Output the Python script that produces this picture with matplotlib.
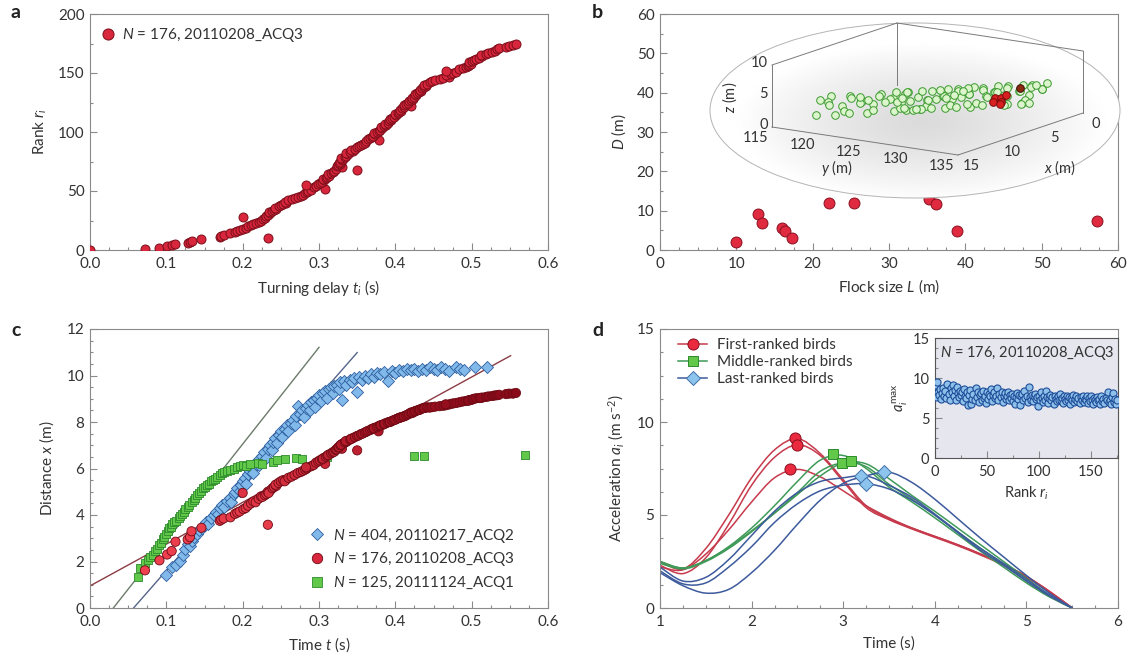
import numpy as np
import matplotlib
matplotlib.use("Agg")
import matplotlib.pyplot as plt
from matplotlib.patches import Ellipse, PathPatch
from matplotlib.path import Path
from matplotlib.lines import Line2D
from matplotlib.ticker import MultipleLocator
from matplotlib.colors import LinearSegmentedColormap

plt.rcParams['font.family'] = ['Lato', 'DejaVu Sans']
plt.rcParams['mathtext.fontset'] = 'custom'
plt.rcParams['mathtext.rm'] = 'Lato'
plt.rcParams['mathtext.it'] = 'Lato:italic'
plt.rcParams['mathtext.bf'] = 'Lato:bold'

# ---------------------------------------------------------------- data
# (a) turning delay t_i of each bird, ordered by rank r_i = 0..175
turn_delay = [
    0.000, 0.072, 0.091, 0.101, 0.107, 0.112, 0.128, 0.131, 0.133, 0.146,
    0.233, 0.170, 0.172, 0.175, 0.184, 0.190, 0.193, 0.196, 0.201, 0.204,
    0.207, 0.211, 0.214, 0.217, 0.221, 0.224, 0.226, 0.229, 0.200, 0.231,
    0.233, 0.236, 0.234, 0.239, 0.241, 0.244, 0.243, 0.247, 0.250, 0.253,
    0.257, 0.255, 0.260, 0.264, 0.268, 0.272, 0.276, 0.279, 0.282, 0.284,
    0.286, 0.290, 0.308, 0.293, 0.296, 0.283, 0.299, 0.301, 0.304, 0.306,
    0.305, 0.309, 0.311, 0.313, 0.312, 0.316, 0.318, 0.320, 0.350, 0.322,
    0.330, 0.323, 0.325, 0.327, 0.326, 0.328, 0.330, 0.332, 0.329, 0.334,
    0.336, 0.338, 0.335, 0.341, 0.344, 0.342, 0.347, 0.350, 0.352, 0.355,
    0.357, 0.360, 0.362, 0.378, 0.364, 0.367, 0.369, 0.371, 0.373, 0.372,
    0.376, 0.378, 0.380, 0.383, 0.381, 0.385, 0.388, 0.386, 0.390, 0.392,
    0.394, 0.393, 0.396, 0.398, 0.401, 0.400, 0.403, 0.405, 0.407, 0.406,
    0.409, 0.412, 0.420, 0.411, 0.414, 0.416, 0.418, 0.421, 0.423, 0.422,
    0.425, 0.427, 0.426, 0.429, 0.431, 0.433, 0.432, 0.435, 0.437, 0.440,
    0.438, 0.442, 0.445, 0.448, 0.452, 0.458, 0.463, 0.470, 0.466, 0.473,
    0.476, 0.480, 0.466, 0.484, 0.488, 0.492, 0.495, 0.497, 0.499, 0.496,
    0.501, 0.503, 0.506, 0.510, 0.514, 0.512, 0.519, 0.522, 0.527, 0.530,
    0.533, 0.536, 0.545, 0.549, 0.554, 0.558]
rank = np.arange(len(turn_delay))

# (c) distance travelled by the same birds (N = 176 flock), by rank
travel_176 = [
    0.00, 1.62, 2.05, 2.30, 2.45, 2.85, 2.95, 3.05, 3.30, 3.45,
    3.58, 3.75, 3.80, 3.85, 3.90, 4.05, 4.10, 4.15, 4.25, 4.30,
    4.40, 4.50, 4.58, 4.55, 4.70, 4.80, 4.78, 4.85, 4.95, 4.90,
    5.00, 5.05, 4.95, 5.15, 5.20, 5.25, 5.30, 5.38, 5.45, 5.50,
    5.52, 5.45, 5.60, 5.65, 5.72, 5.80, 5.85, 5.90, 5.95, 6.00,
    6.05, 6.10, 6.20, 6.15, 6.25, 6.05, 6.30, 6.35, 6.40, 6.45,
    6.42, 6.50, 6.55, 6.60, 6.58, 6.65, 6.70, 6.72, 6.78, 6.80,
    6.85, 6.82, 6.90, 6.95, 6.92, 7.00, 7.05, 7.08, 7.02, 7.12,
    7.15, 7.20, 7.18, 7.25, 7.30, 7.28, 7.35, 7.40, 7.42, 7.48,
    7.50, 7.55, 7.58, 7.60, 7.62, 7.65, 7.70, 7.72, 7.75, 7.73,
    7.78, 7.82, 7.85, 7.88, 7.86, 7.90, 7.95, 7.93, 7.98, 8.00,
    8.02, 8.00, 8.05, 8.08, 8.12, 8.10, 8.15, 8.18, 8.20, 8.18,
    8.22, 8.25, 8.40, 8.24, 8.28, 8.32, 8.35, 8.38, 8.40, 8.42,
    8.45, 8.48, 8.46, 8.50, 8.52, 8.55, 8.53, 8.58, 8.60, 8.62,
    8.60, 8.63, 8.62, 8.64, 8.66, 8.68, 8.70, 8.75, 8.72, 8.78,
    8.80, 8.82, 8.76, 8.85, 8.88, 8.90, 8.92, 8.94, 8.95, 8.92,
    8.97, 9.00, 9.02, 9.03, 9.05, 9.04, 9.08, 9.10, 9.12, 9.14,
    9.15, 9.17, 9.20, 9.22, 9.22, 9.25]

# (c) N = 404 flock
time_404 = [
    0.100, 0.108, 0.113, 0.118, 0.122, 0.125, 0.128, 0.131, 0.133, 0.136,
    0.140, 0.143, 0.147, 0.150, 0.152, 0.155, 0.158, 0.162, 0.165, 0.168,
    0.170, 0.173, 0.176, 0.180, 0.183, 0.185, 0.188, 0.190, 0.193, 0.196,
    0.198, 0.200, 0.203, 0.205, 0.207, 0.210, 0.212, 0.214, 0.217, 0.220,
    0.222, 0.225, 0.228, 0.230, 0.233, 0.236, 0.238, 0.240, 0.243, 0.245,
    0.248, 0.250, 0.252, 0.255, 0.258, 0.260, 0.263, 0.266, 0.268, 0.270,
    0.272, 0.275, 0.278, 0.280, 0.283, 0.286, 0.288, 0.290, 0.293, 0.295,
    0.298, 0.300, 0.302, 0.305, 0.308, 0.310, 0.313, 0.316, 0.318, 0.320,
    0.323, 0.326, 0.328, 0.330, 0.333, 0.336, 0.340, 0.343, 0.346, 0.350,
    0.352, 0.356, 0.360, 0.364, 0.368, 0.372, 0.376, 0.380, 0.385, 0.390,
    0.395, 0.400, 0.405, 0.410, 0.415, 0.420, 0.425, 0.430, 0.435, 0.440,
    0.445, 0.450, 0.455, 0.460, 0.465, 0.470, 0.480, 0.485, 0.490, 0.505,
    0.520]
dist_404 = [
    1.42, 1.75, 1.85, 2.02, 2.30, 2.55, 2.75, 2.65, 2.90, 3.05,
    3.20, 3.35, 3.45, 3.55, 3.70, 3.60, 3.85, 4.00, 4.15, 4.05,
    4.30, 4.45, 4.35, 4.60, 4.75, 4.55, 4.90, 5.00, 5.15, 5.05,
    5.30, 5.45, 5.60, 5.35, 5.75, 5.90, 6.00, 5.80, 6.20, 6.35,
    6.15, 6.55, 6.70, 6.45, 6.85, 7.00, 6.80, 7.15, 7.30, 7.10,
    7.45, 7.60, 7.35, 7.70, 7.85, 7.60, 7.95, 8.10, 7.85, 8.25,
    8.70, 8.35, 8.50, 8.20, 8.60, 8.75, 8.50, 8.85, 8.95, 8.65,
    9.05, 9.15, 8.90, 9.25, 9.35, 9.05, 9.40, 9.50, 9.25, 9.55,
    9.60, 9.40, 9.70, 8.95, 9.75, 9.60, 9.80, 9.70, 9.90, 9.30,
    9.95, 9.80, 10.00, 9.90, 10.05, 9.95, 10.10, 10.05, 10.15, 9.75,
    10.20, 10.10, 10.25, 10.20, 10.30, 10.25, 10.30, 10.20, 10.30, 10.25,
    10.35, 10.30, 10.25, 10.35, 10.30, 10.20, 10.35, 10.30, 10.25, 10.35,
    10.35]

# (c) N = 125 flock
time_125 = [
    0.063, 0.066, 0.072, 0.076, 0.078, 0.082, 0.085, 0.088, 0.090, 0.093,
    0.095, 0.097, 0.100, 0.102, 0.104, 0.106, 0.108, 0.110, 0.113, 0.116,
    0.118, 0.120, 0.123, 0.125, 0.128, 0.130, 0.133, 0.136, 0.138, 0.140,
    0.143, 0.146, 0.148, 0.150, 0.153, 0.156, 0.158, 0.161, 0.164, 0.167,
    0.170, 0.173, 0.176, 0.180, 0.184, 0.188, 0.192, 0.196, 0.200, 0.205,
    0.210, 0.220, 0.225, 0.240, 0.245, 0.255, 0.270, 0.278, 0.310, 0.425,
    0.438, 0.570]
dist_125 = [
    1.35, 1.70, 1.95, 2.05, 2.20, 2.30, 2.45, 2.55, 2.70, 2.80,
    2.95, 3.05, 3.20, 3.30, 3.45, 3.50, 3.60, 3.70, 3.75, 3.85,
    3.95, 4.05, 4.15, 4.25, 4.35, 4.45, 4.55, 4.65, 4.75, 4.85,
    4.95, 5.05, 5.15, 5.20, 5.30, 5.35, 5.45, 5.50, 5.55, 5.65,
    5.70, 5.80, 5.85, 5.90, 5.95, 6.00, 6.05, 6.10, 6.15, 6.10,
    6.20, 6.25, 6.20, 6.30, 6.35, 6.40, 6.45, 6.40, 6.50, 6.55,
    6.55, 6.60]

# (c) linear fits of the early phase: N = 125, N = 404, N = 176
fit_slope = [41.6, 37.5, 17.97]
fit_icpt = [-1.27, -2.14, 0.95]
fit_t_start = [0.0305, 0.0571, 0.0]
fit_t_end = [0.30, 0.35, 0.551]

# (b) delay distance D versus flock size L
flock_L = [10.0, 12.8, 13.3, 16.0, 16.4, 17.3, 22.1, 25.4, 35.2, 36.2, 38.9, 57.2]
flock_D = [2.1, 9.1, 6.9, 5.7, 4.8, 3.1, 12.0, 12.0, 12.9, 11.6, 4.8, 7.4]

# (b, inset) bird positions in the N = 176 flock (m)
bird_x = [
    9.0, 11.2, 9.9, 11.4, 9.0, 10.1, 11.3, 9.0, 10.0, 8.2,
    10.1, 8.8, 10.4, 8.0, 9.1, 10.3, 8.0, 9.1, 7.1, 6.9,
    7.9, 9.5, 7.1, 8.2, 9.5, 7.1, 8.2, 6.3, 6.0, 8.2,
    8.6, 6.2, 7.3, 8.7, 6.3, 7.4, 5.5, 5.2, 7.4, 6.1,
    5.4, 6.5, 7.8, 5.4, 6.6, 4.6, 4.3, 6.6, 5.3, 6.9,
    5.7, 7.0, 4.6, 5.7, 3.8, 3.5, 5.7, 4.4, 6.1, 3.7,
    6.2, 3.8, 4.9, 3.0, 2.7, 4.9, 3.6, 5.3, 2.9, 4.0,
    3.0, 4.1, 2.2, 1.9, 4.2, 2.9, 4.5, 7.2, 7.6, 8.1,
    6.0, 3.7, 4.5, 7.7, 7.5, 10.1, 4.3, 4.6, 5.6, 2.9,
    7.9, 6.5, 7.9, 5.8, 6.7, 3.6, 4.0, 7.5, 6.0, 8.1]
bird_y = [
    116.0, 116.3, 116.5, 116.9, 117.2, 117.4, 117.8, 118.0, 118.3, 118.5,
    118.9, 119.1, 119.4, 119.6, 119.9, 120.2, 120.4, 120.6, 120.9, 121.1,
    121.3, 121.6, 121.8, 122.0, 122.2, 122.5, 122.7, 122.9, 123.1, 123.3,
    123.6, 123.8, 124.0, 124.2, 124.4, 124.7, 124.9, 125.1, 125.3, 125.5,
    125.8, 126.0, 126.2, 126.4, 126.6, 126.9, 127.1, 127.3, 127.5, 127.7,
    128.0, 128.2, 128.4, 128.6, 128.8, 129.0, 129.3, 129.5, 129.7, 129.9,
    130.1, 130.3, 130.5, 130.8, 131.0, 131.2, 131.4, 131.6, 131.8, 132.0,
    132.2, 132.4, 132.6, 132.8, 133.0, 133.2, 133.4, 121.4, 123.5, 125.6,
    127.9, 129.1, 126.7, 124.5, 122.3, 120.1, 128.5, 130.6, 131.5, 132.5,
    119.0, 121.9, 124.1, 126.3, 128.1, 130.0, 131.9, 127.0, 125.0, 123.0]
bird_z = [
    2.5, 0.5, 2.0, 3.2, 1.2, 0.3, 2.5, 3.0, 1.1, 2.0,
    0.9, 2.4, 3.6, 1.6, 0.7, 2.9, 3.4, 1.4, 2.4, 3.3,
    2.8, 4.0, 1.9, 1.1, 3.2, 3.7, 1.8, 2.7, 3.6, 1.6,
    4.3, 2.3, 1.4, 3.5, 4.0, 2.1, 3.0, 4.0, 1.9, 3.4,
    2.6, 1.7, 3.8, 4.4, 2.4, 3.3, 4.3, 2.2, 3.7, 5.0,
    2.0, 4.2, 4.7, 2.7, 3.7, 4.6, 2.5, 4.1, 5.3, 3.2,
    4.5, 5.0, 3.0, 4.0, 4.9, 2.8, 4.4, 5.6, 3.5, 2.7,
    5.3, 3.3, 4.3, 5.2, 3.1, 4.7, 5.9, 1.9, 1.3, 3.7,
    2.6, 3.7, 4.2, 1.8, 2.9, 3.8, 3.0, 2.4, 4.7, 5.3,
    2.1, 3.4, 1.7, 3.6, 5.0, 3.2, 2.6, 4.0, 4.1, 1.8]
first_x = [6.7, 6.2, 7.2, 6.5, 5.8, 6.9]
first_y = [131.5, 131.7, 131.8, 132.0, 131.9, 132.3]
first_z = [4.7, 4.4, 4.3, 4.0, 4.9, 3.9]
lead_xyz = [5.3, 133.0, 6.0]

# (d) acceleration profiles a_i(t)
time_grid = [1.0, 1.25, 1.5, 1.75, 2.0, 2.25, 2.5, 2.75, 3.0, 3.25,
             3.5, 3.75, 4.0, 4.25, 4.5, 4.75, 5.0, 5.25, 5.5]
acc_first = [
    [2.5, 2.1, 3.2, 5.0, 7.0, 8.5, 9.1, 8.3, 6.9, 5.5, 4.8, 4.3, 3.85, 3.4, 2.9, 2.35, 1.7, 0.9, 0.0],
    [2.3, 1.85, 2.7, 4.5, 6.6, 8.1, 8.77, 8.2, 6.8, 5.4, 4.75, 4.25, 3.8, 3.35, 2.85, 2.3, 1.65, 0.85, 0.0],
    [2.2, 2.05, 2.9, 4.2, 5.7, 7.0, 7.45, 7.05, 6.3, 5.5, 4.85, 4.3, 3.85, 3.4, 2.9, 2.35, 1.7, 0.9, 0.0]]
acc_middle = [
    [2.5, 2.15, 2.55, 3.3, 4.3, 5.5, 6.8, 7.95, 8.2, 7.5, 6.5, 5.7, 4.85, 3.95, 3.05, 2.2, 1.35, 0.6, 0.0],
    [2.4, 2.1, 2.5, 3.2, 4.1, 5.1, 6.2, 7.35, 7.8, 7.6, 6.65, 5.85, 5.0, 4.1, 3.2, 2.35, 1.45, 0.65, 0.0],
    [2.5, 2.15, 2.55, 3.25, 4.15, 5.1, 6.1, 7.1, 7.8, 7.75, 6.95, 6.05, 5.2, 4.3, 3.4, 2.5, 1.6, 0.7, 0.0]]
acc_last = [
    [2.2, 1.45, 1.65, 2.6, 3.9, 5.2, 6.2, 6.8, 7.0, 7.1, 6.6, 5.95, 5.05, 4.1, 3.2, 2.4, 1.55, 0.7, 0.0],
    [2.0, 1.3, 1.35, 2.2, 3.3, 4.6, 5.6, 6.3, 6.6, 6.68, 6.4, 5.8, 5.0, 4.05, 3.1, 2.3, 1.45, 0.65, 0.0],
    [1.9, 1.2, 0.8, 1.0, 1.9, 3.1, 4.5, 5.8, 6.7, 7.1, 7.3, 6.75, 5.85, 4.8, 3.75, 2.75, 1.75, 0.8, 0.0]]
peak_first_t = [2.47, 2.50, 2.42]
peak_first_a = [9.13, 8.77, 7.46]
peak_middle_t = [2.89, 2.99, 3.08]
peak_middle_a = [8.26, 7.81, 7.92]
peak_last_t = [3.19, 3.25, 3.45]
peak_last_a = [7.10, 6.68, 7.32]

# (d, inset) maximum acceleration of each bird, by rank
acc_max = [
    9.1, 7.6, 9.5, 8.3, 7.9, 8.6, 7.4, 8.1, 8.8, 7.7,
    8.4, 7.5, 9.2, 8.0, 7.3, 8.7, 8.2, 9.1, 7.8, 8.5,
    7.2, 8.9, 8.1, 7.6, 8.4, 7.9, 8.3, 7.1, 8.6, 7.7,
    7.5, 8.2, 6.6, 7.9, 8.5, 6.8, 7.4, 8.0, 7.2, 8.7,
    7.6, 8.3, 7.0, 7.9, 8.1, 7.3, 8.4, 7.5, 7.8, 6.9,
    8.2, 7.4, 8.0, 7.7, 8.6, 7.1, 7.9, 8.3, 7.5, 7.8,
    8.8, 7.2, 8.0, 7.6, 8.3, 7.0, 7.8, 8.1, 7.4, 7.7,
    8.2, 7.3, 7.9, 7.5, 8.0, 7.1, 7.8, 6.8, 7.6, 8.1,
    7.4, 7.9, 6.6, 7.7, 8.0, 7.2, 8.4, 7.5, 7.8, 7.0,
    8.9, 7.6, 7.3, 7.9, 7.1, 7.7, 8.0, 7.4, 7.6, 6.5,
    7.8, 7.2, 8.2, 7.5, 7.0, 7.7, 7.3, 8.4, 7.6, 6.9,
    7.5, 7.9, 7.2, 7.6, 6.8, 7.8, 7.4, 7.1, 7.7, 7.3,
    8.0, 7.2, 7.5, 6.9, 7.7, 7.4, 7.1, 7.8, 7.3, 7.6,
    6.8, 7.5, 7.2, 7.9, 7.0, 7.4, 7.7, 7.1, 7.5, 6.9,
    7.6, 7.3, 7.8, 7.0, 7.4, 7.2, 7.7, 6.9, 7.5, 7.1,
    7.8, 7.2, 6.7, 7.5, 7.3, 7.0, 7.6, 7.2, 7.4, 6.8,
    7.7, 7.1, 7.4, 6.9, 7.5, 7.2, 8.3, 7.0, 7.3, 6.7,
    7.6, 8.1, 7.0, 7.4, 6.8, 7.2]

# ---------------------------------------------------------------- style
W, H = 1133, 663
TXT = '#333333'
SPINE = '#8a8a8a'
RED_FC, RED_EC = '#d8263c', '#7c0e1a'
BLUE_FC, BLUE_EC = '#80b9ea', '#2f5f9f'
GREEN_FC, GREEN_EC = '#62c84a', '#2c8a2c'
FS = 11

fig = plt.figure(figsize=(W / 100, H / 100), dpi=100)


def px_box(x0, y0, x1, y1):
    return [x0 / W, 1 - y1 / H, (x1 - x0) / W, (y1 - y0) / H]


def style(ax, xminor, yminor, size=FS):
    for side in ('top', 'right', 'left', 'bottom'):
        ax.spines[side].set_color(SPINE)
        ax.spines[side].set_linewidth(0.8)
    ax.xaxis.set_minor_locator(MultipleLocator(xminor))
    ax.yaxis.set_minor_locator(MultipleLocator(yminor))
    ax.tick_params(which='both', direction='in', color=SPINE, width=0.8,
                   top=False, right=False, labelsize=size, labelcolor=TXT)
    ax.tick_params(axis='x', pad=5)
    ax.tick_params(axis='y', pad=4)
    ax.tick_params(which='major', length=5)
    ax.tick_params(which='minor', length=2.5)


def smooth_path(xs, ys):
    # cubic Bezier segments through every (x, y) knot (Catmull-Rom tangents)
    p = np.column_stack([xs, ys]).astype(float)
    ext = np.vstack([p[0], p, p[-1]])
    verts = [p[0]]
    codes = [Path.MOVETO]
    for i in range(len(p) - 1):
        p0, p1, p2, p3 = ext[i], ext[i + 1], ext[i + 2], ext[i + 3]
        verts += [p1 + (p2 - p0) / 6.0, p2 - (p3 - p1) / 6.0, p2]
        codes += [Path.CURVE4] * 3
    return Path(verts, codes)


# ---------------------------------------------------------------- panel a
ax_a = fig.add_axes(px_box(90, 14, 548, 250))
ax_a.scatter(turn_delay, rank, s=42, c=RED_FC, edgecolors=RED_EC, linewidths=0.7, zorder=3)
ax_a.set_xlim(0, 0.6)
ax_a.set_ylim(0, 200)
ax_a.set_xticks(np.arange(0, 0.61, 0.1))
ax_a.set_xticklabels(['0.0', '0.1', '0.2', '0.3', '0.4', '0.5', '0.6'])
ax_a.set_yticks([0, 50, 100, 150, 200])
style(ax_a, 0.025, 25)
ax_a.set_xlabel(r'Turning delay $t_i$ (s)', fontsize=FS, color=TXT, labelpad=5)
ax_a.set_ylabel(r'Rank $r_i$', fontsize=FS, color=TXT, labelpad=6)
ax_a.legend(handles=[Line2D([], [], ls='', marker='o', ms=8, mfc=RED_FC, mec=RED_EC, mew=0.7)],
            labels=[r'$N$ = 176, 20110208_ACQ3'], loc='upper left', frameon=False,
            fontsize=FS, handlelength=0.8, handletextpad=0.5, borderaxespad=0.4,
            labelcolor=TXT)

# ---------------------------------------------------------------- panel b
ax_b = fig.add_axes(px_box(660, 14, 1118, 250))
ax_b.scatter(flock_L, flock_D, s=62, c='#e02a40', edgecolors='#8a1020', linewidths=0.7, zorder=3)
ax_b.set_xlim(0, 60)
ax_b.set_ylim(0, 60)
ax_b.set_xticks(np.arange(0, 61, 10))
ax_b.set_yticks(np.arange(0, 61, 10))
style(ax_b, 2.5, 5)
ax_b.set_xlabel(r'Flock size $L$ (m)', fontsize=FS, color=TXT, labelpad=5)
ax_b.set_ylabel(r'$D$ (m)', fontsize=FS, color=TXT, labelpad=6)

# inset: 3D view of the flock drawn with a fixed parallel projection
ax_i = fig.add_axes(px_box(700, 16, 1128, 204))
ax_i.set_xlim(700, 1128)
ax_i.set_ylim(204, 16)
ax_i.axis('off')
ell = Ellipse((915, 110.5), 410, 175, fc='none', ec='#b4b4b4', lw=0.7, zorder=2)
ax_i.add_patch(ell)
gx, gy = np.meshgrid(np.linspace(700, 1128, 300), np.linspace(16, 204, 140))
rr = np.sqrt(((gx - 922) / 205.0) ** 2 + ((gy - 122) / 87.5) ** 2)
g = np.clip(0.86 + 0.16 * rr ** 1.3, 0, 1)
im = ax_i.imshow(np.dstack([g, g, g]), extent=(700, 1128, 204, 16), origin='upper',
                 interpolation='bilinear', aspect='auto', zorder=1)
im.set_clip_path(ell)

ORIG = np.array([897.0, 85.0])      # screen position of x = 0, y = 115, z = 0
EX = np.array([-125 / 15.0, 42 / 15.0])
EY = np.array([186 / 20.0, 28 / 20.0])
EZ = np.array([0.0, -62 / 10.0])


def proj(x, y, z):
    x = np.asarray(x, float)
    y = np.asarray(y, float)
    z = np.asarray(z, float)
    sx = ORIG[0] + EX[0] * x + EY[0] * (y - 115) + EZ[0] * z
    sy = ORIG[1] + EX[1] * x + EY[1] * (y - 115) + EZ[1] * z
    return sx, sy


box_lc = dict(color='#7a7a7a', lw=0.7, zorder=3)
edges = [((15, 115, 0), (15, 135, 0)), ((15, 135, 0), (0, 135, 0)),
         ((15, 115, 0), (15, 115, 10)), ((0, 115, 0), (0, 115, 10)),
         ((0, 135, 0), (0, 135, 10)), ((15, 115, 10), (0, 115, 10)),
         ((0, 115, 10), (0, 135, 10))]
for a, b in edges:
    sx, sy = proj([a[0], b[0]], [a[1], b[1]], [a[2], b[2]])
    ax_i.plot(sx, sy, **box_lc)

tk = dict(fontsize=10.5, color=TXT, zorder=4)
for v in [115, 120, 125, 130, 135]:
    sx, sy = proj(15, v, 0)
    ax_i.text(sx - 16, sy + 11, str(v), ha='center', va='center', **tk)
for v in [0, 5, 10, 15]:
    sx, sy = proj(v, 135, 0)
    ax_i.text(sx + 13, sy + 11, str(v), ha='center', va='center', **tk)
for v in [0, 5, 10]:
    sx, sy = proj(15, 115, v)
    ax_i.text(sx - 4, sy - 2, str(v), ha='right', va='center', **tk)
sx, sy = proj(15, 125, 0)
ax_i.text(sx - 28, sy + 27, r'$y$ (m)', ha='center', va='center', **tk)
sx, sy = proj(7.5, 135, 0)
ax_i.text(sx + 40, sy + 34, r'$x$ (m)', ha='center', va='center', **tk)
sx, sy = proj(15, 115, 5)
ax_i.text(sx - 42, sy + 1, r'$z$ (m)', ha='center', va='center', rotation=90, **tk)

bx, by = proj(bird_x, bird_y, bird_z)
ax_i.scatter(bx, by, s=30, facecolors='#dcf5cc', edgecolors='#3c9a30', linewidths=0.7, zorder=5)
fx, fy = proj(first_x, first_y, first_z)
ax_i.scatter(fx, fy, s=30, facecolors='#d82020', edgecolors='#7a0a0a', linewidths=0.7, zorder=6)
lx, ly = proj(*lead_xyz)
ax_i.scatter([lx], [ly], s=30, facecolors='#8a2a10', edgecolors='#3a0a00', linewidths=0.7, zorder=6)

# ---------------------------------------------------------------- panel c
ax_c = fig.add_axes(px_box(90, 329, 548, 608))
fit_colors = ['#6b7b6b', '#56658a', '#8c3b44']
for k in range(3):
    tt = np.array([fit_t_start[k], fit_t_end[k]])
    ax_c.plot(tt, fit_slope[k] * tt + fit_icpt[k], color=fit_colors[k], lw=1.0, zorder=2)
ax_c.scatter(time_404, dist_404, s=38, marker='D', c=BLUE_FC, edgecolors=BLUE_EC,
             linewidths=0.6, zorder=3)
ax_c.scatter(time_125, dist_125, s=36, marker='s', c=GREEN_FC, edgecolors=GREEN_EC,
             linewidths=0.6, zorder=4)
red_cmap = LinearSegmentedColormap.from_list('reds', ['#f0404f', '#b01828', '#8a0a1a'])
ax_c.scatter(turn_delay[1:], travel_176[1:], s=44, c=rank[1:], cmap=red_cmap,
             edgecolors='#6e0a14', linewidths=0.6, zorder=5)
ax_c.set_xlim(0, 0.6)
ax_c.set_ylim(0, 12)
ax_c.set_xticks(np.arange(0, 0.61, 0.1))
ax_c.set_xticklabels(['0.0', '0.1', '0.2', '0.3', '0.4', '0.5', '0.6'])
ax_c.set_yticks(np.arange(0, 13, 2))
style(ax_c, 0.025, 0.5)
ax_c.set_xlabel(r'Time $t$ (s)', fontsize=FS, color=TXT, labelpad=5)
ax_c.set_ylabel(r'Distance $x$ (m)', fontsize=FS, color=TXT, labelpad=8)
hc = [Line2D([], [], ls='', marker='D', ms=6.5, mfc=BLUE_FC, mec=BLUE_EC, mew=0.6),
      Line2D([], [], ls='', marker='o', ms=7.5, mfc='#d8263c', mec='#6e0a14', mew=0.6),
      Line2D([], [], ls='', marker='s', ms=6.5, mfc=GREEN_FC, mec=GREEN_EC, mew=0.6)]
ax_c.legend(handles=hc, labels=[r'$N$ = 404, 20110217_ACQ2', r'$N$ = 176, 20110208_ACQ3',
                                r'$N$ = 125, 20111124_ACQ1'],
            loc='lower left', bbox_to_anchor=(0.47, 0.035), frameon=False, fontsize=FS,
            handlelength=0.8, handletextpad=0.6, labelspacing=0.38, borderaxespad=0,
            labelcolor=TXT)

# ---------------------------------------------------------------- panel d
ax_d = fig.add_axes(px_box(660, 329, 1118, 608))
groups = [(acc_first, peak_first_t, peak_first_a, '#c63a4c', 'o', '#ea2a3e', '#8a1020', 8),
          (acc_middle, peak_middle_t, peak_middle_a, '#3f9a58', 's', GREEN_FC, GREEN_EC, 7),
          (acc_last, peak_last_t, peak_last_a, '#3c5a9c', 'D', '#8cc4ee', '#4070a8', 7)]
for curves, pt, pa, lc, mk, mfc, mec, ms in groups:
    for a in curves:
        ax_d.add_patch(PathPatch(smooth_path(time_grid, a), fc='none', ec=lc, lw=1.1, zorder=2))
    ax_d.plot(pt, pa, ls='', marker=mk, ms=ms, mfc=mfc, mec=mec, mew=0.7, zorder=4)
ax_d.set_xlim(1, 6)
ax_d.set_ylim(0, 15)
ax_d.set_xticks(np.arange(1, 7, 1))
ax_d.set_yticks([0, 5, 10, 15])
style(ax_d, 0.25, 1.25)
ax_d.set_xlabel('Time (s)', fontsize=FS, color=TXT, labelpad=5)
ax_d.set_ylabel(r'Acceleration $a_i$ (m s$^{-2}$)', fontsize=FS, color=TXT, labelpad=8)
hd = [Line2D([], [], color=g[3], lw=1.1, marker=g[4], ms=g[7], mfc=g[5], mec=g[6], mew=0.7)
      for g in groups]
ax_d.legend(handles=hd, labels=['First-ranked birds', 'Middle-ranked birds', 'Last-ranked birds'],
            loc='upper left', bbox_to_anchor=(0.02, 1.0), frameon=False, fontsize=FS,
            handlelength=1.9, handletextpad=0.6, labelspacing=0.2, borderaxespad=0.2,
            labelcolor=TXT)

# inset: maximum acceleration versus rank
ax_n = fig.add_axes(px_box(935, 338, 1118, 458))
ax_n.set_facecolor('#e5e6ee')
ax_n.scatter(rank, acc_max, s=26, facecolors='#8ec0ea', edgecolors='#1f4e99', linewidths=0.8, zorder=3)
ax_n.set_xlim(0, 176)
ax_n.set_ylim(0, 15)
ax_n.set_xticks([0, 50, 100, 150])
ax_n.set_yticks([0, 5, 10, 15])
style(ax_n, 25, 1.25, size=10.5)
for side in ('top', 'right', 'left', 'bottom'):
    ax_n.spines[side].set_color('#555555')
ax_n.set_xlabel(r'Rank $r_i$', fontsize=10.5, color=TXT, labelpad=4)
ax_n.set_ylabel(r'$a_i^{\mathrm{max}}$', fontsize=10.5, color=TXT, labelpad=2)
ax_n.text(0.03, 0.95, r'$N$ = 176, 20110208_ACQ3', transform=ax_n.transAxes,
          ha='left', va='top', fontsize=10.5, color=TXT)

# ---------------------------------------------------------------- panel letters
for lab, x, y in [('a', 11, 12), ('b', 592, 12), ('c', 11, 330), ('d', 592, 330)]:
    fig.text(x / W, 1 - y / H, lab, fontsize=14, fontweight='bold', color='#222222',
             ha='left', va='center')

fig.savefig('out.png', dpi=100)
